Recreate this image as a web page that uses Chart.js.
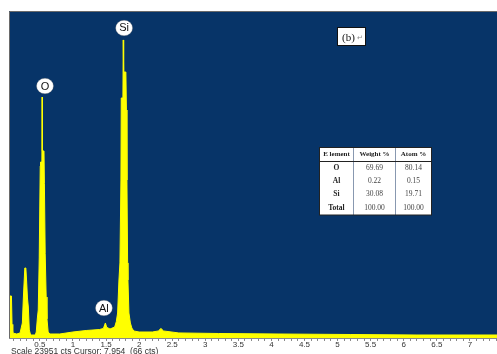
<!DOCTYPE html>
<html>
<head>
<meta charset="utf-8">
<script src="https://cdn.jsdelivr.net/npm/chart.js@4/dist/chart.umd.min.js"></script>
<style>
  html, body { margin: 0; padding: 0; background: #ffffff; }
  canvas { display: block; }
</style>
</head>
<body>
<canvas id="eds" width="497" height="354"></canvas>
<script>
// EDS spectrum: energy (keV) and counts per channel
const energyKeV = [
  0.033, 0.034, 0.044, 0.070, 0.079, 0.090, 0.150, 0.200, 0.235, 0.250,
  0.272, 0.288, 0.300, 0.312, 0.325, 0.340, 0.360, 0.430, 0.445, 0.462,
  0.475, 0.490, 0.505, 0.510, 0.530, 0.534, 0.538, 0.562, 0.568, 0.580,
  0.595, 0.607, 0.625, 0.650, 0.800, 1.000, 1.200, 1.400, 1.460, 1.490,
  1.510, 1.560, 1.630, 1.655, 1.675, 1.695, 1.710, 1.725, 1.730, 1.755,
  1.760, 1.766, 1.800, 1.808, 1.816, 1.826, 1.831, 1.846, 1.868, 1.890,
  1.920, 2.000, 2.200, 2.290, 2.330, 2.370, 2.600, 3.200, 4.100, 5.200,
  6.200, 7.410
];
const counts = [
  7545, 7545, 3076, 3076, 1000, 366, 293, 366, 1100, 2930,
  5127, 5127, 4100, 2930, 2270, 586, 220, 220, 440, 1465,
  2050, 5860, 12600, 12890, 12890, 17650, 13700, 13700, 11300, 6200,
  3000, 1400, 440, 293, 293, 440, 550, 620, 700, 1100,
  780, 660, 800, 1200, 1830, 4250, 5500, 11570, 17580, 17580,
  21830, 19480, 19480, 16700, 11570, 5500, 4250, 1830, 1100, 730,
  515, 440, 440, 515, 700, 515, 370, 330, 293, 256,
  220, 220
];

// Axis: full-scale counts, labelled ticks and minor tick step
const fullScaleCounts = 23951;
const tickValues = [0.5, 1, 1.5, 2, 2.5, 3, 3.5, 4, 4.5, 5, 5.5, 6, 6.5, 7];
const tickLabels = ['0.5', '1', '1.5', '2', '2.5', '3', '3.5', '4', '4.5', '5', '5.5', '6', '6.5', '7'];
const minorStep = 0.1;

// Peak markers
const peakNames = ['O', 'Al', 'Si'];
const peakEnergies = [0.577, 1.468, 1.773];

// Quantification table
const elements = ['O', 'Al', 'Si', 'Total'];
const weightPct = ['69.69', '0.22', '30.08', '100.00'];
const atomPct = ['80.14', '0.15', '19.71', '100.00'];
const statusText = 'Scale 23951 cts Cursor: 7.954  (66 cts)';

const BLUE = '#073468';

function peakValueNear(e) {
  let best = 0;
  for (let i = 0; i < energyKeV.length; i++) {
    if (Math.abs(energyKeV[i] - e) < 0.045 && counts[i] > best) best = counts[i];
  }
  return best;
}

const decor = {
  id: 'decor',
  beforeDraw(chart) {
    const { ctx, chartArea: a } = chart;
    ctx.save();
    ctx.fillStyle = '#ffffff';
    ctx.fillRect(0, 0, chart.width, chart.height);
    ctx.fillStyle = BLUE;
    ctx.fillRect(a.left, a.top, a.right - a.left, a.bottom - a.top);
    ctx.restore();
  },
  afterDraw(chart) {
    const { ctx, chartArea: a, scales } = chart;
    const xs = scales.x, ys = scales.y;
    ctx.save();
    // frame on top and left
    ctx.strokeStyle = '#6a6a6a';
    ctx.lineWidth = 1;
    ctx.beginPath();
    ctx.moveTo(a.left + 0.5, a.bottom);
    ctx.lineTo(a.left + 0.5, a.top + 0.5);
    ctx.lineTo(a.right, a.top + 0.5);
    ctx.stroke();

    // peak markers
    const gaps = [11, 15, 12];
    peakNames.forEach((name, i) => {
      const cx = xs.getPixelForValue(peakEnergies[i]);
      const cy = ys.getPixelForValue(peakValueNear(peakEnergies[i])) - gaps[i];
      ctx.beginPath();
      ctx.ellipse(cx, cy, 8.5, 7.8, 0, 0, Math.PI * 2);
      ctx.fillStyle = '#ffffff';
      ctx.fill();
      ctx.strokeStyle = 'rgba(90,90,90,0.5)';
      ctx.lineWidth = 0.6;
      ctx.stroke();
      ctx.fillStyle = '#111111';
      ctx.font = '11px "Liberation Sans", Arial, sans-serif';
      ctx.textAlign = 'center';
      ctx.textBaseline = 'middle';
      ctx.fillText(name, cx, cy + 0.5);
    });

    // panel tag
    ctx.fillStyle = '#ffffff';
    ctx.fillRect(337, 27, 29, 19);
    ctx.strokeStyle = '#111111';
    ctx.lineWidth = 1;
    ctx.strokeRect(337.5, 27.5, 28, 18);
    ctx.fillStyle = '#111111';
    ctx.font = '11px "Liberation Serif", serif';
    ctx.textAlign = 'left';
    ctx.textBaseline = 'alphabetic';
    ctx.fillText('(b)', 342, 41);
    ctx.fillStyle = '#888888';
    ctx.font = '7px "DejaVu Sans", sans-serif';
    ctx.fillText('\u21B5', 357, 40);

    // quantification table
    const tx = 319.5, ty = 147.5, tw = 112, th = 67.5;
    const colX = [319.5, 353.5, 395.5, 431.5];
    const rowY = [147.5, 161.5, 174.5, 187.5, 200.5, 215];
    ctx.fillStyle = '#ffffff';
    ctx.fillRect(tx, ty, tw, th);
    ctx.strokeStyle = '#8898b0';
    ctx.lineWidth = 1;
    ctx.beginPath();
    ctx.moveTo(colX[1], ty); ctx.lineTo(colX[1], ty + th);
    ctx.moveTo(colX[2], ty); ctx.lineTo(colX[2], ty + th);
    ctx.stroke();
    ctx.strokeStyle = '#222222';
    ctx.beginPath();
    ctx.moveTo(tx, rowY[1]); ctx.lineTo(tx + tw, rowY[1]);
    ctx.stroke();
    ctx.strokeRect(tx, ty, tw, th);

    ctx.textAlign = 'center';
    ctx.textBaseline = 'middle';
    const cc = [0, 1, 2].map(k => (colX[k] + colX[k + 1]) / 2);
    ctx.fillStyle = '#222222';
    ctx.font = 'bold 7px "Liberation Serif", serif';
    ctx.fillText('E lement', cc[0], (rowY[0] + rowY[1]) / 2);
    ctx.fillText('Weight %', cc[1], (rowY[0] + rowY[1]) / 2);
    ctx.fillText('Atom %', cc[2], (rowY[0] + rowY[1]) / 2);
    elements.forEach((el, r) => {
      const cy = (rowY[r + 1] + rowY[r + 2]) / 2;
      ctx.fillStyle = '#222222';
      ctx.font = 'bold 7.5px "Liberation Serif", serif';
      ctx.fillText(el, cc[0], cy);
      ctx.fillStyle = '#444444';
      ctx.font = '7.5px "Liberation Serif", serif';
      ctx.fillText(weightPct[r], cc[1], cy);
      ctx.fillText(atomPct[r], cc[2], cy);
    });

    // status line under the axis
    ctx.fillStyle = '#333333';
    ctx.font = '8.5px "Liberation Sans", Arial, sans-serif';
    ctx.textAlign = 'left';
    ctx.textBaseline = 'middle';
    ctx.fillText(statusText, 11, 351.5);
    ctx.restore();
  }
};

new Chart(document.getElementById('eds'), {
  type: 'line',
  data: {
    datasets: [{
      data: energyKeV.map((e, i) => ({ x: e, y: counts[i] })),
      borderColor: '#ffff00',
      backgroundColor: '#ffff00',
      borderWidth: 1,
      fill: 'origin',
      pointRadius: 0,
      tension: 0
    }]
  },
  options: {
    responsive: false,
    animation: false,
    devicePixelRatio: 1,
    layout: { padding: { left: 9, top: 11, right: 0, bottom: 0 } },
    plugins: { legend: { display: false }, tooltip: { enabled: false } },
    scales: {
      x: {
        type: 'linear',
        min: 0.033,
        max: 7.41,
        afterBuildTicks(scale) {
          const t = [];
          for (let v = minorStep; v < scale.max; v += minorStep) t.push({ value: Math.round(v * 10) / 10 });
          scale.ticks = t;
        },
        afterFit(scale) { scale.height = 16; },
        grid: { display: true, drawOnChartArea: false, drawTicks: true, tickLength: 3, color: '#8a8a8a' },
        border: { display: true, color: '#8a8a8a', width: 1 },
        ticks: {
          autoSkip: false,
          maxRotation: 0,
          padding: -1,
          color: '#333333',
          font: { family: '"Liberation Sans", Arial, sans-serif', size: 8 },
          callback(v) {
            const i = tickValues.findIndex(t => Math.abs(t - v) < 1e-6);
            return i >= 0 ? tickLabels[i] : '';
          }
        }
      },
      y: {
        display: false,
        min: 0,
        max: fullScaleCounts
      }
    }
  },
  plugins: [decor]
});
</script>
</body>
</html>
